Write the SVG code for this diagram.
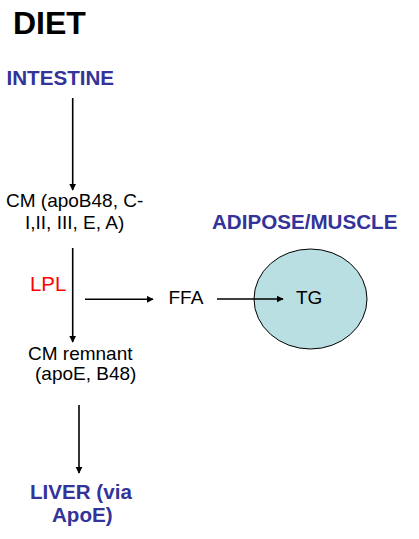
<svg xmlns="http://www.w3.org/2000/svg" width="419" height="539" viewBox="0 0 419 539">
<style>
text{font-family:"Liberation Sans",Arial,sans-serif;}
.b{font-weight:bold;fill:#333399;font-size:20.6px;}
.n{fill:#000;font-size:19px;}
.c{stroke:#000;stroke-width:1.6;fill:none;marker-end:url(#ah);}
</style>
<defs>
<marker id="ah" viewBox="0 0 10 10" refX="9" refY="5" markerWidth="4.5" markerHeight="4.5" orient="auto" markerUnits="strokeWidth">
<path d="M0,0 L10,5 L0,10 z" fill="#000"/>
</marker>
</defs>
<g id="diet"><text x="13" y="34" font-size="32" font-weight="bold" fill="#000">DIET</text></g>
<g id="intestine"><text class="b" x="6.5" y="85">INTESTINE</text></g>
<g id="cm"><text class="n" x="6" y="207">CM (apoB48, C-</text><text class="n" x="25" y="229">I,II, III, E, A)</text></g>
<g id="lpl"><text x="30" y="291" font-size="20.4" fill="#ff0000">LPL</text></g>
<g id="ffa"><text class="n" x="168.5" y="304" font-size="19.5">FFA</text></g>
<g id="adipose">
<text class="b" x="212" y="229">ADIPOSE/MUSCLE</text>
<ellipse cx="310.5" cy="299" rx="56.5" ry="50" fill="#b9dfe2" stroke="#000" stroke-width="1"/>
<text class="n" x="296" y="303.5" font-size="20">TG</text>
</g>
<g id="remnant"><text class="n" x="28" y="359.5" font-size="20.6">CM remnant</text><text class="n" x="35" y="379.5" font-size="18.8">(apoE, B48)</text></g>
<g id="liver"><text class="b" x="30" y="499">LIVER (via</text><text class="b" x="52" y="522">ApoE)</text></g>
<g id="connectors">
<line class="c" x1="72.7" y1="98" x2="72.7" y2="190"/>
<line class="c" x1="72.7" y1="248" x2="72.7" y2="342"/>
<line class="c" x1="85" y1="299.3" x2="153" y2="299.3"/>
<line class="c" x1="217" y1="299" x2="283" y2="299"/>
<line class="c" x1="79" y1="405" x2="79" y2="473"/>
</g>
</svg>
